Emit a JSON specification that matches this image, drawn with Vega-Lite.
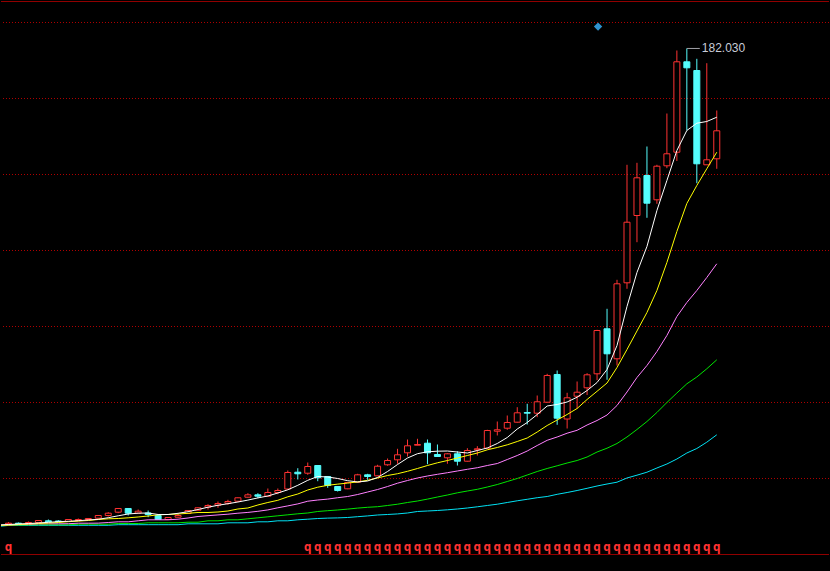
{
  "$schema": "https://vega.github.io/schema/vega-lite/v6.json",
  "autosize": {"type": "fit", "contains": "padding"},
  "width": 830,
  "height": 571,
  "padding": 0,
  "background": "#000000",
  "config": {"view": {"stroke": null}, "scale": {"continuousPadding": 0}},
  "datasets": {
    "candles": [
      {"i":0,"o":10.97,"h":11.62,"l":10.79,"c":11.26},
      {"i":1,"o":11.26,"h":11.51,"l":10.79,"c":11.04},
      {"i":2,"o":11.26,"h":11.87,"l":11.15,"c":11.51},
      {"i":3,"o":11.51,"h":12.41,"l":11.33,"c":12.23},
      {"i":4,"o":12.12,"h":12.59,"l":11.69,"c":11.76},
      {"i":5,"o":12.05,"h":12.34,"l":11.62,"c":11.87},
      {"i":6,"o":11.87,"h":12.70,"l":11.76,"c":12.59},
      {"i":7,"o":12.23,"h":12.95,"l":12.12,"c":12.59},
      {"i":8,"o":12.59,"h":13.13,"l":12.48,"c":12.95},
      {"i":9,"o":13.06,"h":14.14,"l":12.95,"c":14.03},
      {"i":10,"o":14.03,"h":15.22,"l":13.67,"c":14.86},
      {"i":11,"o":15.22,"h":16.73,"l":14.86,"c":16.55},
      {"i":12,"o":16.55,"h":16.73,"l":14.03,"c":14.86},
      {"i":13,"o":14.86,"h":16.19,"l":14.75,"c":15.58},
      {"i":14,"o":14.93,"h":15.83,"l":13.42,"c":14.39},
      {"i":15,"o":14.03,"h":14.39,"l":12.41,"c":12.59},
      {"i":16,"o":12.59,"h":13.49,"l":12.48,"c":13.31},
      {"i":17,"o":13.42,"h":14.75,"l":13.31,"c":14.03},
      {"i":18,"o":14.75,"h":15.94,"l":14.64,"c":15.83},
      {"i":19,"o":15.94,"h":16.91,"l":15.83,"c":16.80},
      {"i":20,"o":17.01,"h":18.09,"l":16.19,"c":17.63},
      {"i":21,"o":17.73,"h":19.06,"l":16.80,"c":18.35},
      {"i":22,"o":18.45,"h":19.68,"l":17.88,"c":19.06},
      {"i":23,"o":19.17,"h":20.50,"l":19.06,"c":20.40},
      {"i":24,"o":20.61,"h":22.05,"l":20.50,"c":21.47},
      {"i":25,"o":21.47,"h":22.05,"l":20.25,"c":20.97},
      {"i":26,"o":20.97,"h":23.74,"l":20.86,"c":22.30},
      {"i":27,"o":22.30,"h":23.74,"l":21.69,"c":23.02},
      {"i":28,"o":23.56,"h":30.22,"l":23.38,"c":29.50},
      {"i":29,"o":29.60,"h":31.04,"l":26.98,"c":29.03},
      {"i":30,"o":29.24,"h":33.09,"l":28.67,"c":31.65},
      {"i":31,"o":32.01,"h":32.19,"l":26.37,"c":27.59},
      {"i":32,"o":28.06,"h":28.24,"l":23.99,"c":24.82},
      {"i":33,"o":24.46,"h":24.64,"l":22.66,"c":23.02},
      {"i":34,"o":23.63,"h":26.08,"l":23.49,"c":25.90},
      {"i":35,"o":26.01,"h":29.03,"l":25.90,"c":28.67},
      {"i":36,"o":28.67,"h":29.03,"l":26.87,"c":28.06},
      {"i":37,"o":28.31,"h":32.27,"l":28.17,"c":31.76},
      {"i":38,"o":32.27,"h":34.53,"l":31.91,"c":33.81},
      {"i":39,"o":34.06,"h":38.02,"l":32.63,"c":35.86},
      {"i":40,"o":36.58,"h":41.37,"l":35.25,"c":39.10},
      {"i":41,"o":39.32,"h":41.62,"l":39.32,"c":39.57},
      {"i":42,"o":40.04,"h":41.37,"l":32.48,"c":36.58},
      {"i":43,"o":35.97,"h":39.57,"l":35.14,"c":35.25},
      {"i":44,"o":34.78,"h":36.44,"l":32.63,"c":36.22},
      {"i":45,"o":36.22,"h":37.16,"l":32.01,"c":33.56},
      {"i":46,"o":33.56,"h":38.24,"l":33.45,"c":37.41},
      {"i":47,"o":37.66,"h":38.96,"l":35.61,"c":38.02},
      {"i":48,"o":38.24,"h":44.86,"l":38.13,"c":44.60},
      {"i":49,"o":44.35,"h":47.84,"l":42.81,"c":44.86},
      {"i":50,"o":45.43,"h":50.00,"l":44.86,"c":47.48},
      {"i":51,"o":47.59,"h":52.99,"l":47.48,"c":50.97},
      {"i":52,"o":51.08,"h":54.21,"l":46.76,"c":50.83},
      {"i":53,"o":50.83,"h":57.19,"l":49.39,"c":54.93},
      {"i":54,"o":54.78,"h":65.00,"l":54.68,"c":64.39},
      {"i":55,"o":64.75,"h":66.19,"l":46.65,"c":49.03},
      {"i":56,"o":48.74,"h":58.17,"l":45.32,"c":56.37},
      {"i":57,"o":56.94,"h":62.23,"l":52.41,"c":58.38},
      {"i":58,"o":59.96,"h":65.22,"l":57.37,"c":64.64},
      {"i":59,"o":65.00,"h":80.83,"l":62.70,"c":80.58},
      {"i":60,"o":81.19,"h":88.38,"l":62.84,"c":72.19},
      {"i":61,"o":70.40,"h":98.81,"l":67.99,"c":97.37},
      {"i":62,"o":97.73,"h":140.18,"l":95.58,"c":119.53},
      {"i":63,"o":121.94,"h":140.90,"l":112.34,"c":135.50},
      {"i":64,"o":136.33,"h":146.76,"l":121.12,"c":126.37},
      {"i":65,"o":127.59,"h":140.18,"l":126.15,"c":139.68},
      {"i":66,"o":139.82,"h":158.63,"l":138.96,"c":144.14},
      {"i":67,"o":144.71,"h":181.29,"l":141.55,"c":177.23},
      {"i":68,"o":177.23,"h":182.03,"l":152.52,"c":175.07},
      {"i":69,"o":174.10,"h":178.31,"l":133.56,"c":140.54},
      {"i":70,"o":140.18,"h":176.73,"l":140.18,"c":141.98},
      {"i":71,"o":142.34,"h":159.71,"l":138.74,"c":152.41}
    ],
    "ma": [
      {"i":-1,"m5":10.6,"m10":10.45,"m20":10.55,"m30":10.38,"m60":10.1},
      {"i":0,"m5":10.79,"m10":10.61,"m20":10.61,"m30":10.43,"m60":10.47},
      {"i":1,"m5":10.97,"m10":10.79,"m20":10.72,"m30":10.54,"m60":10.50},
      {"i":2,"m5":11.15,"m10":10.97,"m20":10.86,"m30":10.68,"m60":10.50},
      {"i":3,"m5":11.33,"m10":11.15,"m20":11.01,"m30":10.68,"m60":10.50},
      {"i":4,"m5":11.58,"m10":11.33,"m20":11.04,"m30":10.68,"m60":10.50},
      {"i":5,"m5":11.80,"m10":11.51,"m20":11.04,"m30":10.68,"m60":10.50},
      {"i":6,"m5":11.94,"m10":11.80,"m20":11.08,"m30":10.68,"m60":10.50},
      {"i":7,"m5":12.16,"m10":12.01,"m20":11.26,"m30":10.90,"m60":10.50},
      {"i":8,"m5":12.41,"m10":12.23,"m20":11.26,"m30":10.90,"m60":10.50},
      {"i":9,"m5":12.66,"m10":12.59,"m20":11.29,"m30":10.90,"m60":10.50},
      {"i":10,"m5":13.24,"m10":12.84,"m20":11.51,"m30":10.90,"m60":10.50},
      {"i":11,"m5":13.92,"m10":12.95,"m20":11.76,"m30":11.15,"m60":10.72},
      {"i":12,"m5":14.57,"m10":13.20,"m20":11.76,"m30":11.15,"m60":10.72},
      {"i":13,"m5":14.86,"m10":13.49,"m20":12.12,"m30":11.15,"m60":10.72},
      {"i":14,"m5":14.93,"m10":13.85,"m20":12.48,"m30":11.40,"m60":10.72},
      {"i":15,"m5":14.39,"m10":14.28,"m20":12.48,"m30":11.40,"m60":10.72},
      {"i":16,"m5":14.39,"m10":14.39,"m20":12.48,"m30":11.40,"m60":10.72},
      {"i":17,"m5":14.82,"m10":14.57,"m20":12.70,"m30":11.40,"m60":10.72},
      {"i":18,"m5":15.40,"m10":14.82,"m20":13.13,"m30":11.62,"m60":11.04},
      {"i":19,"m5":16.19,"m10":15.11,"m20":13.67,"m30":11.62,"m60":11.04},
      {"i":20,"m5":17.01,"m10":15.11,"m20":13.96,"m30":12.12,"m60":11.04},
      {"i":21,"m5":17.70,"m10":15.29,"m20":14.24,"m30":12.12,"m60":11.04},
      {"i":22,"m5":18.27,"m10":15.65,"m20":14.50,"m30":12.48,"m60":11.40},
      {"i":23,"m5":18.88,"m10":16.37,"m20":14.86,"m30":12.48,"m60":11.40},
      {"i":24,"m5":19.57,"m10":16.73,"m20":15.14,"m30":12.84,"m60":11.40},
      {"i":25,"m5":20.36,"m10":17.81,"m20":15.54,"m30":13.20,"m60":11.76},
      {"i":26,"m5":21.04,"m10":18.71,"m20":16.04,"m30":13.56,"m60":11.76},
      {"i":27,"m5":22.12,"m10":19.50,"m20":16.80,"m30":13.92,"m60":12.12},
      {"i":28,"m5":23.27,"m10":20.76,"m20":17.48,"m30":14.28,"m60":12.12},
      {"i":29,"m5":24.89,"m10":21.76,"m20":18.20,"m30":14.64,"m60":12.48},
      {"i":30,"m5":26.69,"m10":23.20,"m20":19.17,"m30":14.93,"m60":12.70},
      {"i":31,"m5":28.06,"m10":24.21,"m20":19.60,"m30":15.47,"m60":12.95},
      {"i":32,"m5":27.88,"m10":24.89,"m20":19.93,"m30":15.76,"m60":13.09},
      {"i":33,"m5":27.34,"m10":25.32,"m20":20.43,"m30":16.01,"m60":13.17},
      {"i":34,"m5":26.55,"m10":25.68,"m20":20.86,"m30":16.33,"m60":13.31},
      {"i":35,"m5":26.08,"m10":26.12,"m20":21.58,"m30":16.69,"m60":13.60},
      {"i":36,"m5":26.44,"m10":26.69,"m20":22.48,"m30":16.98,"m60":13.88},
      {"i":37,"m5":27.70,"m10":27.52,"m20":23.38,"m30":17.19,"m60":14.21},
      {"i":38,"m5":29.86,"m10":28.42,"m20":24.46,"m30":17.63,"m60":14.39},
      {"i":39,"m5":32.37,"m10":29.06,"m20":25.65,"m30":18.09,"m60":14.60},
      {"i":40,"m5":34.71,"m10":29.93,"m20":26.62,"m30":18.71,"m60":14.93},
      {"i":41,"m5":36.26,"m10":30.94,"m20":27.52,"m30":19.24,"m60":15.47},
      {"i":42,"m5":36.94,"m10":32.01,"m20":28.24,"m30":19.93,"m60":15.65},
      {"i":43,"m5":37.16,"m10":32.99,"m20":28.85,"m30":20.68,"m60":15.83},
      {"i":44,"m5":37.23,"m10":33.81,"m20":29.42,"m30":21.40,"m60":16.08},
      {"i":45,"m5":36.87,"m10":34.71,"m20":30.04,"m30":22.19,"m60":16.37},
      {"i":46,"m5":36.51,"m10":35.61,"m20":30.65,"m30":22.84,"m60":16.73},
      {"i":47,"m5":37.41,"m10":36.51,"m20":31.22,"m30":23.45,"m60":17.16},
      {"i":48,"m5":38.31,"m10":37.66,"m20":32.01,"m30":24.28,"m60":17.63},
      {"i":49,"m5":39.93,"m10":38.49,"m20":32.73,"m30":25.18,"m60":18.09},
      {"i":50,"m5":42.09,"m10":39.46,"m20":34.17,"m30":26.26,"m60":18.71},
      {"i":51,"m5":45.14,"m10":40.65,"m20":35.61,"m30":27.34,"m60":19.32},
      {"i":52,"m5":47.48,"m10":41.91,"m20":37.23,"m30":28.60,"m60":19.86},
      {"i":53,"m5":50.36,"m10":44.06,"m20":39.21,"m30":29.86,"m60":20.43},
      {"i":54,"m5":53.42,"m10":46.40,"m20":41.08,"m30":30.94,"m60":20.86},
      {"i":55,"m5":53.96,"m10":48.38,"m20":42.27,"m30":31.91,"m60":21.65},
      {"i":56,"m5":54.86,"m10":50.36,"m20":43.63,"m30":32.91,"m60":22.30},
      {"i":57,"m5":56.58,"m10":52.52,"m20":44.68,"m30":33.81,"m60":23.02},
      {"i":58,"m5":58.99,"m10":55.76,"m20":46.58,"m30":35.07,"m60":23.81},
      {"i":59,"m5":61.87,"m10":58.71,"m20":48.20,"m30":36.87,"m60":24.64},
      {"i":60,"m5":66.55,"m10":61.69,"m20":50.18,"m30":38.24,"m60":25.36},
      {"i":61,"m5":75.18,"m10":67.27,"m20":53.60,"m30":39.93,"m60":26.01},
      {"i":62,"m5":89.21,"m10":73.74,"m20":58.45,"m30":42.27,"m60":27.52},
      {"i":63,"m5":101.44,"m10":80.40,"m20":63.67,"m30":44.96,"m60":28.53},
      {"i":64,"m5":110.79,"m10":87.05,"m20":67.99,"m30":47.84,"m60":29.60},
      {"i":65,"m5":123.74,"m10":94.96,"m20":73.02,"m30":51.08,"m60":31.12},
      {"i":66,"m5":134.53,"m10":105.04,"m20":78.78,"m30":54.68,"m60":32.55},
      {"i":67,"m5":145.32,"m10":116.19,"m20":85.61,"m30":58.09,"m60":34.35},
      {"i":68,"m5":152.52,"m10":126.26,"m20":90.65,"m30":61.40,"m60":36.51},
      {"i":69,"m5":155.14,"m10":132.73,"m20":94.96,"m30":63.85,"m60":38.13},
      {"i":70,"m5":155.76,"m10":138.74,"m20":99.64,"m30":66.80,"m60":40.40},
      {"i":71,"m5":157.30,"m10":144.71,"m20":104.57,"m30":70.04,"m60":43.06}
    ],
    "grid": [
      {"p":27.34},{"p":54.68},{"p":82.01},{"p":109.35},{"p":136.69},{"p":164.03},{"p":191.37}
    ],
    "frame": [{"p":0},{"p":198.92}],
    "signals": [
      {"i":0},{"i":30},{"i":31},{"i":32},{"i":33},{"i":34},{"i":35},{"i":36},{"i":37},{"i":38},{"i":39},
      {"i":40},{"i":41},{"i":42},{"i":43},{"i":44},{"i":45},{"i":46},{"i":47},{"i":48},{"i":49},
      {"i":50},{"i":51},{"i":52},{"i":53},{"i":54},{"i":55},{"i":56},{"i":57},{"i":58},{"i":59},
      {"i":60},{"i":61},{"i":62},{"i":63},{"i":64},{"i":65},{"i":66},{"i":67},{"i":68},{"i":69},
      {"i":70},{"i":71}
    ],
    "peak": [{"i":68,"v":182.03,"label":"182.030"}],
    "flag": [{"i":59.1,"v":189.9}]
  },
  "layer": [
    {
      "data": {"name": "grid"},
      "mark": {"type": "rule", "color": "#b00000", "strokeWidth": 1, "strokeDash": [1, 2]},
      "encoding": {
        "y": {"field": "p", "type": "quantitative", "scale": {"domain": [-5.935, 199.46], "zero": false, "nice": false}, "axis": null}
      }
    },
    {
      "data": {"name": "frame"},
      "mark": {"type": "rule", "color": "#900000", "strokeWidth": 1},
      "encoding": {
        "y": {"field": "p", "type": "quantitative", "scale": {"domain": [-5.935, 199.46], "zero": false, "nice": false}, "axis": null}
      }
    },
    {
      "data": {"name": "candles"},
      "transform": [{"filter": "datum.c >= datum.o"}],
      "mark": {"type": "rule", "color": "#ff3232", "strokeWidth": 1},
      "encoding": {
        "x": {"field": "i", "type": "quantitative", "scale": {"domain": [-0.75, 82.25], "nice": false, "zero": false, "padding": 0}, "axis": null},
        "y": {"field": "l", "type": "quantitative", "scale": {"domain": [-5.935, 199.46], "zero": false, "nice": false}, "axis": null},
        "y2": {"field": "h"}
      }
    },
    {
      "data": {"name": "candles"},
      "transform": [{"filter": "datum.c < datum.o"}],
      "mark": {"type": "rule", "color": "#54fcfc", "strokeWidth": 1},
      "encoding": {
        "x": {"field": "i", "type": "quantitative", "scale": {"domain": [-0.75, 82.25], "nice": false, "zero": false, "padding": 0}, "axis": null},
        "y": {"field": "l", "type": "quantitative", "scale": {"domain": [-5.935, 199.46], "zero": false, "nice": false}, "axis": null},
        "y2": {"field": "h"}
      }
    },
    {
      "data": {"name": "candles"},
      "transform": [{"filter": "datum.c >= datum.o"}],
      "mark": {"type": "bar", "size": 6, "fill": "#000000", "stroke": "#ff3232", "strokeWidth": 1},
      "encoding": {
        "x": {"field": "i", "type": "quantitative", "scale": {"domain": [-0.75, 82.25], "nice": false, "zero": false, "padding": 0}, "axis": null},
        "y": {"field": "o", "type": "quantitative", "scale": {"domain": [-5.935, 199.46], "zero": false, "nice": false}, "axis": null},
        "y2": {"field": "c"}
      }
    },
    {
      "data": {"name": "candles"},
      "transform": [{"filter": "datum.c < datum.o"}],
      "mark": {"type": "bar", "size": 6, "fill": "#54fcfc", "stroke": "#54fcfc", "strokeWidth": 1},
      "encoding": {
        "x": {"field": "i", "type": "quantitative", "scale": {"domain": [-0.75, 82.25], "nice": false, "zero": false, "padding": 0}, "axis": null},
        "y": {"field": "o", "type": "quantitative", "scale": {"domain": [-5.935, 199.46], "zero": false, "nice": false}, "axis": null},
        "y2": {"field": "c"}
      }
    },
    {
      "data": {"name": "ma"},
      "mark": {"type": "line", "color": "#02e2f4", "strokeWidth": 1, "clip": true},
      "encoding": {
        "x": {"field": "i", "type": "quantitative", "scale": {"domain": [-0.75, 82.25], "nice": false, "zero": false, "padding": 0}, "axis": null},
        "y": {"field": "m60", "type": "quantitative", "scale": {"domain": [-5.935, 199.46], "zero": false, "nice": false}, "axis": null}
      }
    },
    {
      "data": {"name": "ma"},
      "mark": {"type": "line", "color": "#00e600", "strokeWidth": 1, "clip": true},
      "encoding": {
        "x": {"field": "i", "type": "quantitative", "scale": {"domain": [-0.75, 82.25], "nice": false, "zero": false, "padding": 0}, "axis": null},
        "y": {"field": "m30", "type": "quantitative", "scale": {"domain": [-5.935, 199.46], "zero": false, "nice": false}, "axis": null}
      }
    },
    {
      "data": {"name": "ma"},
      "mark": {"type": "line", "color": "#ff80ff", "strokeWidth": 1, "clip": true},
      "encoding": {
        "x": {"field": "i", "type": "quantitative", "scale": {"domain": [-0.75, 82.25], "nice": false, "zero": false, "padding": 0}, "axis": null},
        "y": {"field": "m20", "type": "quantitative", "scale": {"domain": [-5.935, 199.46], "zero": false, "nice": false}, "axis": null}
      }
    },
    {
      "data": {"name": "ma"},
      "mark": {"type": "line", "color": "#ffff00", "strokeWidth": 1, "clip": true},
      "encoding": {
        "x": {"field": "i", "type": "quantitative", "scale": {"domain": [-0.75, 82.25], "nice": false, "zero": false, "padding": 0}, "axis": null},
        "y": {"field": "m10", "type": "quantitative", "scale": {"domain": [-5.935, 199.46], "zero": false, "nice": false}, "axis": null}
      }
    },
    {
      "data": {"name": "ma"},
      "mark": {"type": "line", "color": "#ffffff", "strokeWidth": 1, "clip": true},
      "encoding": {
        "x": {"field": "i", "type": "quantitative", "scale": {"domain": [-0.75, 82.25], "nice": false, "zero": false, "padding": 0}, "axis": null},
        "y": {"field": "m5", "type": "quantitative", "scale": {"domain": [-5.935, 199.46], "zero": false, "nice": false}, "axis": null}
      }
    },
    {
      "data": {"name": "signals"},
      "mark": {"type": "text", "text": "q", "color": "#ff3232", "font": "DejaVu Sans Mono", "fontSize": 12.5, "fontWeight": "bold", "align": "center", "baseline": "alphabetic"},
      "encoding": {
        "x": {"field": "i", "type": "quantitative", "scale": {"domain": [-0.75, 82.25], "nice": false, "zero": false, "padding": 0}, "axis": null},
        "y": {"datum": 1.3, "type": "quantitative", "scale": {"domain": [-5.935, 199.46], "zero": false, "nice": false}, "axis": null}
      }
    },
    {
      "data": {"name": "flag"},
      "mark": {"type": "point", "shape": "diamond", "filled": true, "color": "#2f93d0", "size": 70, "opacity": 1},
      "encoding": {
        "x": {"field": "i", "type": "quantitative", "scale": {"domain": [-0.75, 82.25], "nice": false, "zero": false, "padding": 0}, "axis": null},
        "y": {"field": "v", "type": "quantitative", "scale": {"domain": [-5.935, 199.46], "zero": false, "nice": false}, "axis": null}
      }
    },
    {
      "data": {"name": "peak"},
      "mark": {"type": "rule", "color": "#a0a0a8", "strokeWidth": 1},
      "encoding": {
        "x": {"field": "i", "type": "quantitative", "scale": {"domain": [-0.75, 82.25], "nice": false, "zero": false, "padding": 0}, "axis": null},
        "x2": {"datum": 69.3},
        "y": {"field": "v", "type": "quantitative", "scale": {"domain": [-5.935, 199.46], "zero": false, "nice": false}, "axis": null}
      }
    },
    {
      "data": {"name": "peak"},
      "mark": {"type": "text", "color": "#c8ccd8", "font": "Liberation Sans", "fontSize": 12, "align": "left", "baseline": "middle", "dx": 15},
      "encoding": {
        "x": {"field": "i", "type": "quantitative", "scale": {"domain": [-0.75, 82.25], "nice": false, "zero": false, "padding": 0}, "axis": null},
        "y": {"field": "v", "type": "quantitative", "scale": {"domain": [-5.935, 199.46], "zero": false, "nice": false}, "axis": null},
        "text": {"field": "label"}
      }
    }
  ]
}
